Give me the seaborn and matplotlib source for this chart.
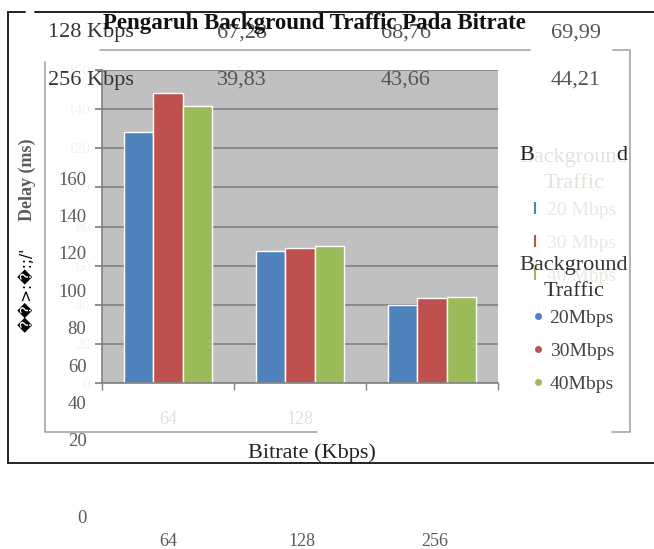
import numpy as np
import pandas as pd
import matplotlib
matplotlib.use('Agg')
import matplotlib.pyplot as plt
import seaborn as sns
from matplotlib.lines import Line2D

# Data (delay in ms)
bitrates = ['64', '128', '256']
traffic = ['20Mbps', '30Mbps', '40Mbps']
delay_20 = [128.2, 67.28, 39.83]
delay_30 = [148.3, 68.76, 43.66]
delay_40 = [141.8, 69.99, 44.21]
bar_colors = ['#4f81bd', '#c0504d', '#9bbb59']

# Stray table rows printed over the top of the chart
table_rows = ['128 Kbps', '256 Kbps']
table_128 = ['67,28', '68,76', '69,99']
table_256 = ['39,83', '43,66', '44,21']

# Outer (misaligned) axis labels
outer_y_labels = ['0', '20', '40', '60', '80', '100', '120', '140', '160']
outer_y_pos = [-21, 20, 40, 60, 80, 100, 120, 140, 160]  # the "0" sits lower than the rest

df = pd.DataFrame({
    'Bitrate': bitrates * 3,
    'Traffic': np.repeat(traffic, 3),
    'Delay': delay_20 + delay_30 + delay_40,
})

sns.set_theme(style='white')
plt.rcParams['font.family'] = ['Liberation Serif', 'DejaVu Sans']

W, H = 654, 549
def fx(x):
    return x / W
def fy(y):
    return 1 - y / H

fig = plt.figure(figsize=(6.54, 5.49), dpi=100)

# frame lines, drawn in pixel space
frame = fig.add_axes([0, 0, 1, 1], zorder=0)
frame.set_xlim(0, W)
frame.set_ylim(H, 0)
frame.axis('off')
for xs, ys in [([8, 25], [12, 12]), ([35, 654], [12, 12]), ([8, 8], [12, 463]), ([8, 654], [463, 463])]:
    frame.plot(xs, ys, color='#222222', lw=1.4)
for xs, ys in [([100, 530], [50, 50]), ([613, 630, 630, 612], [50, 50, 432, 432]),
               ([45, 45, 317], [62, 432, 432])]:
    frame.plot(xs, ys, color='#a6a6a6', lw=1.2)

# inner bar chart
ax = fig.add_axes([fx(102), fy(383), fx(498) - fx(102), (383 - 70) / H], zorder=1)
ax.set_facecolor('#c0c0c0')
ax.set_axisbelow(True)
ax.yaxis.grid(True, color='#808080', lw=1.2)
sns.barplot(data=df, x='Bitrate', y='Delay', hue='Traffic', palette=bar_colors,
            width=0.66, saturation=1, legend=False, ax=ax)
ax.set_xlim(-0.5, 2.5)
ax.set_ylim(0, 160)
ax.set_yticks(range(0, 161, 20))
ax.set_xlabel('')
ax.set_ylabel('')
for s in ['top', 'right']:
    ax.spines[s].set_visible(False)
for s in ['left', 'bottom']:
    ax.spines[s].set_color('#808080')
    ax.spines[s].set_linewidth(1.2)
ax.tick_params(axis='y', left=True, length=5, color='#808080', labelsize=11, labelcolor='#f5f3ef')
ax.set_xticks([-0.5, 0.5, 1.5, 2.5], minor=True)
ax.tick_params(axis='x', which='minor', bottom=True, length=5, color='#808080')
ax.tick_params(axis='x', which='major', bottom=False, length=0, pad=20, labelsize=13)
for lbl, c in zip(ax.get_xticklabels(), ['#e0e0e0', '#e0e0e0', 'white']):
    lbl.set_color(c)

# outer axis labels that ended up floating around the chart
ax2 = fig.add_axes([fx(92), fy(526), fx(500) - fx(92), (526 - 170) / H], zorder=2)
ax2.patch.set_alpha(0)
for s in ax2.spines.values():
    s.set_visible(False)
ax2.set_xlim(-0.569, 2.487)
ax2.set_ylim(-26.0, 164.3)
ax2.set_xticks([0, 1, 2])
ax2.set_xticklabels(bitrates)
ax2.set_yticks(outer_y_pos)
ax2.set_yticklabels(outer_y_labels)
ax2.tick_params(length=0, labelsize=13.5, labelcolor='#5a5a5a', pad=4)
ax2.tick_params(axis='x', labelsize=13, pad=5)
ax2.grid(False)

# table text
for row, vals, y in [(table_rows[0], table_128, 33), (table_rows[1], table_256, 80)]:
    fig.text(fx(91), fy(y), row, ha='center', va='center', fontsize=16, color='#3a3535', zorder=5)
    for v, x in zip(vals, [242, 406, 576]):
        fig.text(fx(x), fy(y), v, ha='center', va='center', fontsize=16, color='#555555', zorder=5)

fig.text(fx(314), fy(23), 'Pengaruh Background Traffic Pada Bitrate', ha='center', va='center',
         fontsize=16.5, fontweight='bold', color='#111111', zorder=10)
fig.text(fx(312), fy(453), 'Bitrate (Kbps)', ha='center', va='center', fontsize=16, color='#222222')

# y label and garbled glyphs
fig.text(fx(27), fy(180), 'Delay (ms)', rotation=90, ha='center', va='center',
         fontsize=13, fontweight='bold', color='#5a5a5a')
fig.text(fx(27), fy(290), '\ufffd\ufffd>:\ufffd:;/\'', rotation=90, ha='center', va='center',
         fontsize=11, color='black', family=['DejaVu Sans'])


def make_legend(handles, labels, top, title_color, text_color):
    leg = fig.legend(handles, labels, title='Background\nTraffic',
                     loc='upper center', bbox_to_anchor=(fx(574), fy(top)), frameon=False,
                     fontsize=14, title_fontsize=16, labelspacing=0.8, handlelength=0.4,
                     handletextpad=0.4, borderpad=0, borderaxespad=0)
    leg.get_title().set_color(title_color)
    leg.get_title().set_multialignment('center')
    leg.get_title().set_linespacing(1.5)
    leg._legend_box.sep = 6
    for t in leg.get_texts():
        t.set_color(text_color)
    return leg


# faint legend (hidden underneath)
faint_handles = [Line2D([], [], marker='|', ls='', color=c, markersize=9, mew=1.5) for c in bar_colors]
make_legend(faint_handles, ['20 Mbps', '30 Mbps', '40 Mbps'], 148, '#e4e0da', '#ebe8e2')
fig.text(fx(527), fy(156), 'B', ha='center', va='center', fontsize=16, color='#222222', zorder=6)
fig.text(fx(622), fy(156), 'd', ha='center', va='center', fontsize=16, color='#222222', zorder=6)

# visible legend
dot_handles = [Line2D([], [], marker='o', ls='', color=c, markersize=4) for c in bar_colors]
make_legend(dot_handles, traffic, 256, '#333333', '#444444')

fig.savefig('out.png', dpi=100)
